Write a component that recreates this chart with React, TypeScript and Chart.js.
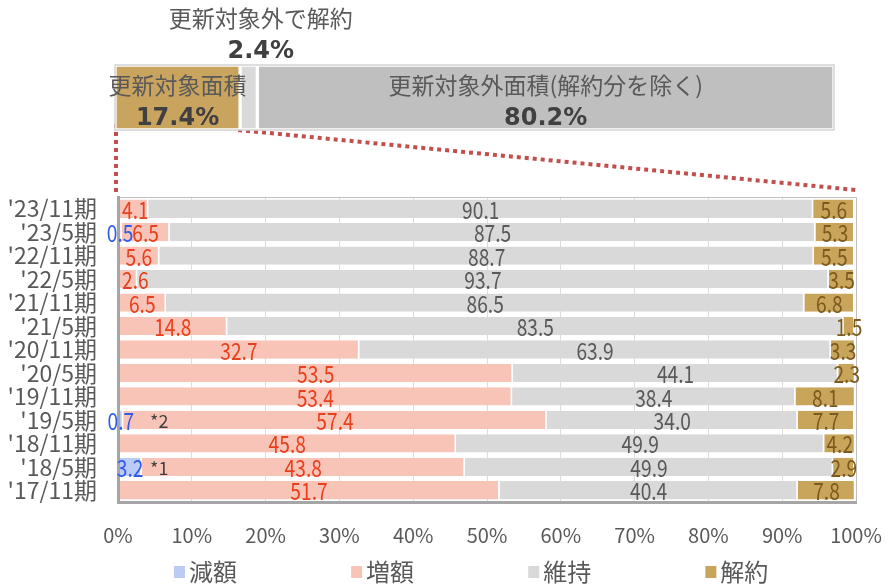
import React, { useEffect, useRef } from 'react';
import { Chart, registerables } from 'chart.js';
Chart.register(...registerables);

// ---- data ----
const categories = ["'23/11期", "'23/5期", "'22/11期", "'22/5期", "'21/11期", "'21/5期", "'20/11期", "'20/5期", "'19/11期", "'19/5期", "'18/11期", "'18/5期", "'17/11期"];
const seriesNames = ['減額', '増額', '維持', '解約'];
const decrease = [0, 0.5, 0, 0, 0, 0, 0, 0, 0, 0.7, 0, 3.2, 0];
const increase = [4.1, 6.5, 5.6, 2.6, 6.5, 14.8, 32.7, 53.5, 53.4, 57.4, 45.8, 43.8, 51.7];
const maintain = [90.1, 87.5, 88.7, 93.7, 86.5, 83.5, 63.9, 44.1, 38.4, 34.0, 49.9, 49.9, 40.4];
const cancel = [5.6, 5.3, 5.5, 3.5, 6.8, 1.5, 3.3, 2.3, 8.1, 7.7, 4.2, 2.9, 7.8];
const notes = ['', '', '', '', '', '', '', '', '', '*2', '', '*1', ''];
const xTickLabels = ['0%', '10%', '20%', '30%', '40%', '50%', '60%', '70%', '80%', '90%', '100%'];

const overviewNames = ['更新対象面積', '更新対象外で解約', '更新対象外面積(解約分を除く)'];
const overviewValues = [17.4, 2.4, 80.2];

// ---- styles ----
const seriesColors = ['#bccbf6', '#f9c4b8', '#d9d9d9', '#c9a55c'];
const labelColors = ['#2f5ce8', '#e8401c', '#595959', '#7a5a1e'];
const overviewColors = ['#c9a45e', '#d9d9d9', '#bfbfbf'];
const JP = '"Noto Sans CJK JP", "Noto Sans", sans-serif';
const BOLD = '"DejaVu Sans", "Noto Sans", sans-serif';
const LABEL_SQUEEZE = 0.8;

const seriesData = [decrease, increase, maintain, cancel];

export default function App() {
  const mainRef = useRef<HTMLCanvasElement>(null);
  const topRef = useRef<HTMLCanvasElement>(null);

  useEffect(() => {
    document.body.style.margin = '0';

    const overviewPlugin = {
      id: 'overviewLabels',
      afterDatasetsDraw(chart: any) {
        const ctx = chart.ctx;
        const area = chart.chartArea;
        ctx.save();
        ctx.strokeStyle = '#d4d4d4';
        ctx.lineWidth = 1.5;
        ctx.strokeRect(area.left, area.top, area.right - area.left, area.bottom - area.top);
        ctx.textAlign = 'center';
        ctx.textBaseline = 'middle';
        chart.data.datasets.forEach((ds: any, i: number) => {
          const el = chart.getDatasetMeta(i).data[0];
          const p = el.getProps(['x', 'y', 'base'], true);
          const cx = (p.x + p.base) / 2;
          if (i === 1) {
            ctx.font = `23px ${JP}`;
            ctx.fillStyle = '#595959';
            ctx.fillText(ds.label, cx + 12, area.top - 47);
            ctx.font = `bold 24px ${BOLD}`;
            ctx.fillStyle = '#404040';
            ctx.fillText(ds.data[0].toFixed(1) + '%', cx + 12, area.top - 13);
          } else {
            ctx.font = `23px ${JP}`;
            ctx.fillStyle = '#595959';
            ctx.fillText(ds.label, cx, area.top + 20);
            ctx.font = `bold 24px ${BOLD}`;
            ctx.fillStyle = '#404040';
            ctx.fillText(ds.data[0].toFixed(1) + '%', cx, area.top + 54);
          }
        });
        ctx.restore();
      },
    };

    const overview = new Chart(topRef.current as HTMLCanvasElement, {
      type: 'bar',
      data: {
        labels: [''],
        datasets: overviewNames.map((n, i) => ({
          label: n,
          data: [overviewValues[i]],
          backgroundColor: overviewColors[i],
          borderColor: '#ffffff',
          borderWidth: 2,
          borderSkipped: false,
          barPercentage: 1,
          categoryPercentage: 1,
        })),
      },
      options: {
        indexAxis: 'y',
        responsive: false,
        animation: false,
        layout: { padding: { left: 115, right: 57, top: 65, bottom: 20 } },
        plugins: { legend: { display: false }, tooltip: { enabled: false } },
        scales: {
          x: { display: false, stacked: true, min: 0, max: 100 },
          y: { display: false, stacked: true },
        },
      },
      plugins: [overviewPlugin],
    } as any);

    const mainPlugin = {
      id: 'mainDecor',
      afterDatasetsDraw(chart: any) {
        const ctx = chart.ctx;
        const area = chart.chartArea;
        ctx.save();
        // thin frame top/right
        ctx.strokeStyle = '#bfbfbf';
        ctx.lineWidth = 1;
        ctx.beginPath();
        ctx.moveTo(area.left, area.top + 0.5);
        ctx.lineTo(area.right + 0.5, area.top + 0.5);
        ctx.lineTo(area.right + 0.5, area.bottom);
        ctx.stroke();
        ctx.restore();
      },
      afterDraw(chart: any) {
        const ctx = chart.ctx;
        const area = chart.chartArea;
        ctx.save();

        // data labels (on top of axis borders)
        ctx.textAlign = 'center';
        ctx.textBaseline = 'middle';
        chart.data.datasets.forEach((ds: any, di: number) => {
          const meta = chart.getDatasetMeta(di);
          meta.data.forEach((el: any, j: number) => {
            const v = ds.data[j];
            if (!v) return;
            const p = el.getProps(['x', 'y', 'base'], true);
            const text = v.toFixed(1);
            ctx.font = `24px ${JP}`;
            const w = ctx.measureText(text).width * LABEL_SQUEEZE;
            let cx = (p.x + p.base) / 2;
            if (di === 1) cx = Math.max(cx, area.left + w / 2 + 4);
            ctx.fillStyle = labelColors[di];
            ctx.save();
            ctx.translate(cx, p.y + 1);
            ctx.scale(LABEL_SQUEEZE, 1);
            ctx.fillText(text, 0, 0);
            ctx.restore();
            if (di === 0 && notes[j]) {
              ctx.font = `18px ${JP}`;
              ctx.fillStyle = '#404040';
              ctx.textAlign = 'left';
              ctx.fillText(notes[j], area.left + 32, p.y + 1);
              ctx.textAlign = 'center';
            }
          });
        });

        // dotted connector lines from the overview bar
        const gold = overview.getDatasetMeta(0).data[0] as any;
        const p = gold.getProps(['x', 'y', 'base', 'height'], true);
        const barBottom = p.y + p.height / 2;
        ctx.strokeStyle = '#c0504d';
        ctx.lineWidth = 4;
        ctx.setLineDash([4, 4]);
        ctx.beginPath();
        ctx.moveTo(p.base + 1, barBottom - 6);
        ctx.lineTo(area.left - 2, area.top - 5);
        ctx.moveTo(p.x - 2, barBottom);
        ctx.lineTo(area.right, area.top - 7);
        ctx.stroke();
        ctx.setLineDash([]);

        // legend
        const startX = area.left + 56;
        const step = (area.right - area.left) * 0.24;
        const y = area.bottom + 70;
        ctx.textAlign = 'left';
        ctx.textBaseline = 'middle';
        ctx.font = `24px ${JP}`;
        chart.data.datasets.forEach((ds: any, i: number) => {
          const x = startX + i * step;
          ctx.fillStyle = ds.backgroundColor;
          ctx.fillRect(x, y - 6, 11, 12);
          ctx.fillStyle = '#595959';
          ctx.fillText(ds.label, x + 15, y);
        });
        ctx.restore();
      },
    };

    const main = new Chart(mainRef.current as HTMLCanvasElement, {
      type: 'bar',
      data: {
        labels: categories,
        datasets: seriesNames.map((n, i) => ({
          label: n,
          data: seriesData[i],
          backgroundColor: seriesColors[i],
          borderColor: '#ffffff',
          borderWidth: { left: 0, right: 1.5, top: 0, bottom: 0 },
          borderSkipped: false,
          barPercentage: 0.78,
          categoryPercentage: 1,
        })),
      },
      options: {
        indexAxis: 'y',
        responsive: false,
        animation: false,
        layout: { padding: { left: 0, right: 35, top: 197, bottom: 38 } },
        plugins: { legend: { display: false }, tooltip: { enabled: false } },
        scales: {
          x: {
            stacked: true,
            min: 0,
            max: 100,
            ticks: {
              stepSize: 10,
              maxRotation: 0,
              autoSkip: false,
              padding: 21,
              color: '#595959',
              font: { family: JP, size: 20 },
              callback: (_v: any, i: number) => xTickLabels[i],
            },
            grid: { color: '#dddddd', drawTicks: false },
            border: { color: '#a6a6a6', width: 3, z: 1 },
            afterFit: (s: any) => { s.height = 45; s.paddingLeft = 0; s.paddingRight = 0; },
          },
          y: {
            stacked: true,
            ticks: { autoSkip: false, padding: 13, color: '#595959', font: { family: JP, size: 23 } },
            grid: { display: false },
            border: { color: '#a6a6a6', width: 3, z: 1 },
            afterFit: (s: any) => { s.width = 118; s.paddingTop = 0; s.paddingBottom = 0; },
          },
        },
      },
      plugins: [mainPlugin],
    } as any);

    return () => {
      main.destroy();
      overview.destroy();
    };
  }, []);

  return (
    <div style={{ position: 'relative', width: 891, height: 585, overflow: 'hidden' }}>
      <canvas ref={mainRef} width={891} height={585} style={{ position: 'absolute', left: 0, top: 0 }} />
      <canvas ref={topRef} width={891} height={150} style={{ position: 'absolute', left: 0, top: 0 }} />
    </div>
  );
}
